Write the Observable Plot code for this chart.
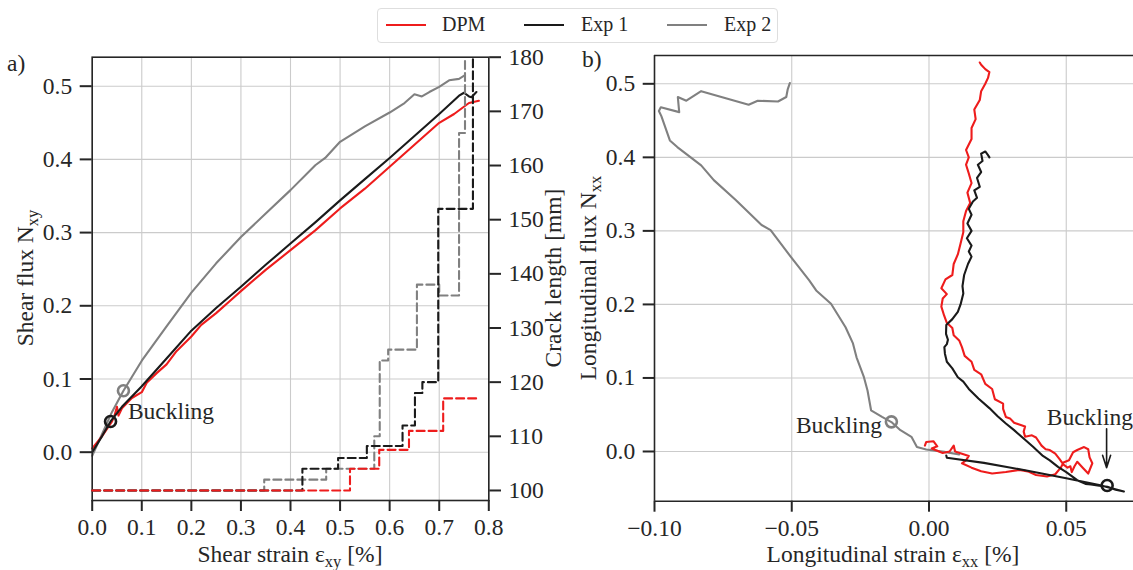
<!DOCTYPE html>
<html><head><meta charset="utf-8">
<script src="https://cdn.jsdelivr.net/npm/d3@7"></script>
<script src="https://cdn.jsdelivr.net/npm/@observablehq/plot@0.6"></script>
<style>
body{margin:0;background:#fff;width:1133px;height:570px;overflow:hidden;position:relative;font-family:"Liberation Serif","Times New Roman","DejaVu Serif",serif;color:#262626;}
svg, svg text{font-family:"Liberation Serif","Times New Roman","DejaVu Serif",serif !important;}
.panel{position:absolute;top:0;}
.panel svg{overflow:visible;}
#legend{position:absolute;left:377px;top:8px;width:401px;height:35px;border:1px solid #dedede;border-radius:4px;box-sizing:border-box;background:#fff;z-index:5;}
#legend .ln{position:absolute;top:15px;height:2px;width:40px;}
#legend .tx{position:absolute;top:3px;font-size:20px;line-height:24px;white-space:nowrap;}
</style></head><body>
<div id="legend"></div>
<div id="pa" class="panel" style="left:0"></div>
<div id="pa2" class="panel" style="left:0"></div>
<div id="pb" class="panel" style="left:566px"></div>
<script>
// ---------- data ----------
const seriesNames = ["DPM", "Exp 1", "Exp 2"];
const seriesColors = ["#ee1c1c", "#1a1a1a", "#808080"];

// Panel a: shear strain [%] vs shear flux Nxy
const shearDPM = [[0,0.005],[0.02,0.022],[0.04,0.042],[0.045,0.05],[0.05,0.062],[0.053,0.05],[0.06,0.06],[0.08,0.074],[0.1,0.082],[0.11,0.095],[0.13,0.108],[0.15,0.12],[0.17,0.138],[0.2,0.158],[0.22,0.174],[0.25,0.19],[0.28,0.208],[0.3,0.22],[0.35,0.249],[0.4,0.276],[0.45,0.303],[0.5,0.333],[0.55,0.36],[0.6,0.39],[0.65,0.42],[0.7,0.45],[0.73,0.462],[0.76,0.477],[0.78,0.48]];
const shearExp1 = [[0,0],[0.02,0.022],[0.037,0.042],[0.06,0.062],[0.1,0.09],[0.15,0.128],[0.2,0.166],[0.25,0.197],[0.3,0.226],[0.35,0.256],[0.4,0.285],[0.45,0.314],[0.5,0.344],[0.55,0.373],[0.6,0.402],[0.65,0.432],[0.7,0.462],[0.74,0.487],[0.75,0.491],[0.76,0.486],[0.765,0.485],[0.775,0.492]];
const shearExp2 = [[0,-0.005],[0.02,0.025],[0.04,0.055],[0.063,0.084],[0.1,0.125],[0.15,0.172],[0.2,0.218],[0.25,0.258],[0.3,0.294],[0.35,0.326],[0.4,0.358],[0.45,0.392],[0.47,0.402],[0.5,0.424],[0.55,0.445],[0.6,0.464],[0.63,0.477],[0.65,0.489],[0.665,0.486],[0.68,0.492],[0.7,0.499],[0.72,0.508],[0.74,0.51],[0.752,0.515]];
// crack length [mm] vs shear strain (step lines)
const crackDPM = [[0,100],[0.52,104],[0.579,107.5],[0.639,111],[0.708,117],[0.778,117]];
const crackExp1 = [[0,100],[0.424,104],[0.496,106],[0.554,108.2],[0.626,112],[0.651,118],[0.666,120],[0.698,152],[0.768,180]];
const crackExp2 = [[0,100],[0.347,102],[0.472,104],[0.569,110],[0.58,124],[0.597,126],[0.655,138],[0.70,136],[0.74,166],[0.752,180]];
const bucklingA = [{x:0.037,y:0.042,s:"Exp 1"},{x:0.063,y:0.084,s:"Exp 2"}];

// Panel b: longitudinal strain vs longitudinal flux Nxx
const longDPM = [[-0.0015,0.008],[-0.001,0.013],[0.0016,0.014],[0.003,0.007],[0.001,0.004],[0.005,-0.002],[0.0075,0.0],[0.009,0.008],[0.0095,0.0],[0.012,-0.003],[0.0145,-0.006],[0.0135,-0.012],[0.012,-0.016],[0.0155,-0.022],[0.019,-0.027],[0.023,-0.03],[0.028,-0.028],[0.033,-0.025],[0.036,-0.027],[0.039,-0.032],[0.043,-0.034],[0.046,-0.031],[0.048,-0.022],[0.049,-0.015],[0.051,-0.012],[0.0525,-0.001],[0.054,0.002],[0.0565,0.006],[0.058,0.003],[0.0585,-0.008],[0.0595,-0.016],[0.058,-0.03],[0.056,-0.022],[0.054,-0.014],[0.053,-0.02],[0.052,-0.028],[0.0515,-0.02],[0.0505,-0.022],[0.049,-0.018],[0.0475,-0.01],[0.046,-0.003],[0.044,0.002],[0.0425,0.003],[0.041,0.008],[0.039,0.019],[0.0375,0.022],[0.035,0.02],[0.0345,0.027],[0.035,0.034],[0.031,0.039],[0.0295,0.045],[0.028,0.047],[0.027,0.058],[0.027,0.065],[0.024,0.071],[0.023,0.085],[0.0205,0.092],[0.019,0.105],[0.0165,0.111],[0.0155,0.122],[0.013,0.13],[0.012,0.142],[0.011,0.151],[0.009,0.158],[0.0085,0.168],[0.0065,0.175],[0.0055,0.185],[0.0045,0.197],[0.005,0.208],[0.0065,0.214],[0.0045,0.222],[0.006,0.234],[0.0085,0.24],[0.009,0.255],[0.0105,0.268],[0.0115,0.283],[0.0125,0.298],[0.0125,0.313],[0.0135,0.327],[0.015,0.338],[0.014,0.352],[0.0155,0.365],[0.0145,0.378],[0.0135,0.39],[0.0145,0.4],[0.0135,0.41],[0.0155,0.425],[0.0155,0.44],[0.017,0.452],[0.0165,0.465],[0.0185,0.478],[0.019,0.49],[0.0205,0.5],[0.0215,0.508],[0.022,0.516],[0.0205,0.52],[0.019,0.526],[0.0185,0.529]];
const longExp1 = [[0.0063,-0.0055],[0.0065,-0.0085],[0.02,-0.0155],[0.035,-0.0255],[0.05,-0.0365],[0.062,-0.0455],[0.071,-0.0545],[0.068,-0.052],[0.065,-0.048],[0.062,-0.0465],[0.059,-0.045],[0.057,-0.044],[0.054,-0.039],[0.05,-0.028],[0.047,-0.021],[0.044,-0.012],[0.0415,-0.006],[0.038,0.006],[0.035,0.016],[0.031,0.029],[0.028,0.038],[0.025,0.048],[0.022,0.059],[0.018,0.072],[0.0145,0.085],[0.0125,0.095],[0.0105,0.101],[0.0085,0.113],[0.0065,0.122],[0.0058,0.133],[0.0056,0.142],[0.0065,0.146],[0.0069,0.152],[0.0062,0.16],[0.0063,0.172],[0.0085,0.18],[0.0105,0.19],[0.0115,0.2],[0.0125,0.215],[0.0122,0.225],[0.0128,0.24],[0.0142,0.255],[0.0155,0.265],[0.0145,0.272],[0.0155,0.28],[0.0138,0.29],[0.0155,0.3],[0.014,0.31],[0.0155,0.322],[0.0145,0.33],[0.016,0.34],[0.0175,0.345],[0.0165,0.355],[0.0185,0.36],[0.0175,0.372],[0.019,0.38],[0.0178,0.39],[0.0195,0.395],[0.019,0.405],[0.0205,0.408],[0.0215,0.403],[0.022,0.4]];
const longExp2 = [[-0.0507,0.501],[-0.0515,0.492],[-0.052,0.482],[-0.055,0.476],[-0.0624,0.477],[-0.0657,0.4715],[-0.083,0.49],[-0.0884,0.477],[-0.0915,0.482],[-0.091,0.4615],[-0.0977,0.468],[-0.0984,0.463],[-0.0975,0.456],[-0.0944,0.423],[-0.0917,0.414],[-0.083,0.389],[-0.0784,0.369],[-0.0704,0.342],[-0.061,0.308],[-0.0577,0.301],[-0.0504,0.265],[-0.0437,0.233],[-0.0411,0.219],[-0.0357,0.201],[-0.0304,0.169],[-0.0277,0.147],[-0.0264,0.128],[-0.0237,0.101],[-0.0224,0.083],[-0.0211,0.056],[-0.0171,0.047],[-0.0137,0.04],[-0.0104,0.029],[-0.0064,0.02],[-0.0044,0.006],[-0.001,0.0027],[0.0056,-0.0005],[0.011,-0.004]];
const bucklingB = [{x:0.0649,y:-0.0462,s:"Exp 1"},{x:-0.0137,y:0.0403,s:"Exp 2"}];

// ticks / labels
const xTicksA = [0,0.1,0.2,0.3,0.4,0.5,0.6,0.7,0.8];
const yTicks = [0,0.1,0.2,0.3,0.4,0.5];
const crackTicks = [100,110,120,130,140,150,160,170,180];
const xTicksB = [-0.1,-0.05,0,0.05];
const annotA = [{x:0.072,y:0.0556,text:"Buckling"}];
const annotBLeft = [{x:-0.0171,y:0.035,text:"Buckling"}];
const annotBRight = [{x:0.0429,y:0.046,text:"Buckling"}];
const arrowB = [{x:0.0647,y1:0.031,y2:-0.022}];

// ---------- layout ----------
const FONT = '"Liberation Serif","Times New Roman","DejaVu Serif",serif';
const FS = 23.5;
const H = 570, WA = 566, WB = 567;
const mA = {marginLeft:91.7, marginRight:WA-488.3, marginTop:56.7, marginBottom:H-500};
const mB = {marginLeft:88, marginRight:0, marginTop:55, marginBottom:H-500.7};
const INK = "#262626", GRID = "#cbcbcb";
const [RED, BLACK, GRAY] = seriesColors;
const colorOf = s => seriesColors[seriesNames.indexOf(s)];
const style = {fontFamily:FONT, fontSize:FS + "px", color:INK, background:"transparent", overflow:"visible"};
const lineOpts = (c) => ({x:d=>d[0], y:d=>d[1], stroke:c, strokeWidth:2.1, strokeLinejoin:"round"});

const plotA = Plot.plot({
  width:WA, height:H, ...mA, style,
  x:{domain:[0,0.8]}, y:{domain:[-0.066,0.5396]},
  marks:[
    Plot.gridX(xTicksA, {stroke:GRID, strokeOpacity:1, strokeWidth:1.1}),
    Plot.gridY(yTicks, {stroke:GRID, strokeOpacity:1, strokeWidth:1.1}),
    Plot.axisX(xTicksA, {tickSize:11, tickPadding:7, tickFormat:d3.format(".1f"), label:null, stroke:INK, strokeWidth:2, fontSize:FS}),
    Plot.axisY(yTicks, {tickSize:12, tickPadding:8, tickFormat:d3.format(".1f"), label:null, stroke:INK, strokeWidth:2, fontSize:FS}),
    Plot.line(shearExp2, lineOpts(GRAY)),
    Plot.line(shearDPM, lineOpts(RED)),
    Plot.line(shearExp1, lineOpts(BLACK)),
    Plot.dot(bucklingA, {x:"x", y:"y", r:5.5, fill:"none", stroke:d=>colorOf(d.s), strokeWidth:2.6}),
    Plot.text(annotA, {x:"x", y:"y", text:"text", textAnchor:"start", lineAnchor:"middle", fill:INK, fontSize:FS}),
    Plot.frame({stroke:INK, strokeWidth:1.6})
  ]
});
document.getElementById("pa").appendChild(plotA);

const plotA2 = Plot.plot({
  width:WA, height:H, ...mA, style,
  x:{domain:[0,0.8], axis:null}, y:{domain:[98.15,180]},
  marks:[
    Plot.axisY(crackTicks, {anchor:"right", tickSize:11.7, tickPadding:8, label:null, stroke:INK, strokeWidth:2, fontSize:FS}),
    Plot.line(crackExp2, {...lineOpts(GRAY), curve:"step-after", strokeDasharray:"8,4"}),
    Plot.line(crackExp1, {...lineOpts(BLACK), curve:"step-after", strokeDasharray:"8,4"}),
    Plot.line(crackDPM, {...lineOpts(RED), curve:"step-after", strokeDasharray:"8,4"})
  ]
});
document.getElementById("pa2").appendChild(plotA2);

const xDomB = [-0.1, 0.0745], yDomB = [-0.0676, 0.5385];
const plotB = Plot.plot({
  width:WB, height:H, ...mB, style,
  x:{domain:xDomB}, y:{domain:yDomB},
  marks:[
    Plot.gridX(xTicksB.slice(1), {stroke:GRID, strokeOpacity:1, strokeWidth:1.1}),
    Plot.gridY(yTicks, {stroke:GRID, strokeOpacity:1, strokeWidth:1.1}),
    Plot.axisX(xTicksB, {tickSize:11, tickPadding:7, tickFormat:d3.format(".2f"), label:null, stroke:INK, strokeWidth:2, fontSize:FS}),
    Plot.axisY(yTicks, {tickSize:11.3, tickPadding:8, tickFormat:d3.format(".1f"), label:null, stroke:INK, strokeWidth:2, fontSize:FS}),
    Plot.line(longExp2, lineOpts(GRAY)),
    Plot.line(longDPM, lineOpts(RED)),
    Plot.line(longExp1, lineOpts(BLACK)),
    Plot.dot(bucklingB, {x:"x", y:"y", r:5.5, fill:"none", stroke:d=>colorOf(d.s), strokeWidth:2.6}),
    Plot.text(annotBLeft, {x:"x", y:"y", text:"text", textAnchor:"end", lineAnchor:"middle", fill:INK, fontSize:FS}),
    Plot.text(annotBRight, {x:"x", y:"y", text:"text", textAnchor:"start", lineAnchor:"middle", fill:INK, fontSize:FS}),
    Plot.arrow(arrowB, {x1:"x", x2:"x", y1:"y1", y2:"y2", stroke:BLACK, strokeWidth:1.6, headLength:13, headAngle:36}),
    Plot.ruleX([xDomB[0]], {stroke:INK, strokeWidth:1.6}),
    Plot.ruleY(yDomB, {stroke:INK, strokeWidth:1.6})
  ]
});
document.getElementById("pb").appendChild(plotB);

// ---------- titles with subscripts ----------
function addLabel(svg, x, y, rot, parts, anchor="middle") {
  const t = d3.select(svg).append("text")
    .attr("transform", `translate(${x},${y}) rotate(${rot})`)
    .attr("text-anchor", anchor).attr("font-size", FS).attr("fill", INK)
    .attr("font-family", FONT);
  let shifted = false;
  parts.forEach(([s, sub]) => {
    const sp = t.append("tspan").text(s);
    if (sub) { sp.attr("font-size", 16.5).attr("dy", 5); shifted = true; }
    else if (shifted) { sp.attr("dy", -5); shifted = false; }
  });
}
addLabel(plotA, 290, 562, 0, [["Shear strain ε"],["xy",1],[" [%]"]]);
addLabel(plotA, 33, 278, -90, [["Shear flux N"],["xy",1]]);
addLabel(plotA2, 561, 278, -90, [["Crack length [mm]"]]);
addLabel(plotB, 893-566, 562, 0, [["Longitudinal strain ε"],["xx",1],[" [%]"]]);
addLabel(plotB, 596-566, 278, -90, [["Longitudinal flux N"],["xx",1]]);
addLabel(plotA, 7, 71, 0, [["a)"]], "start");
addLabel(plotB, 582-566, 67, 0, [["b)"]], "start");

// ---------- legend ----------
const legend = document.getElementById("legend");
const lineX = [8, 146, 289], textX = [64, 203, 346];
seriesNames.forEach((n, i) => {
  const l = document.createElement("div"); l.className = "ln";
  l.style.left = lineX[i] + "px"; l.style.background = seriesColors[i]; legend.appendChild(l);
  const t = document.createElement("div"); t.className = "tx";
  t.style.left = textX[i] + "px"; t.textContent = n; legend.appendChild(t);
});
</script>
</body></html>
